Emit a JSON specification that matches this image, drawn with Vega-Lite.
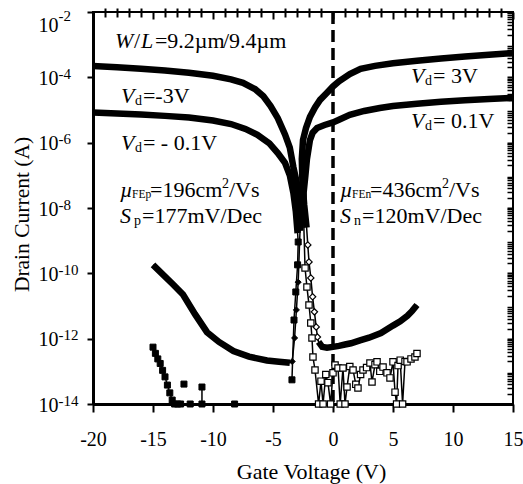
{
"$schema":"https://vega.github.io/schema/vega-lite/v6.json",
"width":420,"height":392,"autosize":"none",
"padding":{"left":93,"top":12,"right":10,"bottom":80},
"background":"white",
"config":{"view":{"stroke":"black","strokeWidth":2},
 "axis":{"grid":false,"labelFont":"Liberation Serif","titleFont":"Liberation Serif","labelColor":"black","titleColor":"black","tickColor":"black","domainColor":"black","titleFontWeight":"normal"}},
"resolve":{"axis":{"x":"independent","y":"independent"}},
"datasets":{
"curves":[
{"series":"m3","path":"m3","part":"on","i":1,"vg":-20,"id":2.24e-4},
{"series":"m3","path":"m3","part":"on","i":2,"vg":-18,"id":2.04e-4},
{"series":"m3","path":"m3","part":"on","i":3,"vg":-16,"id":1.82e-4},
{"series":"m3","path":"m3","part":"on","i":4,"vg":-14,"id":1.62e-4},
{"series":"m3","path":"m3","part":"on","i":5,"vg":-12,"id":1.38e-4},
{"series":"m3","path":"m3","part":"on","i":6,"vg":-10,"id":1.12e-4},
{"series":"m3","path":"m3","part":"on","i":7,"vg":-8.5,"id":8.71e-5},
{"series":"m3","path":"m3","part":"on","i":8,"vg":-7.5,"id":6.76e-5},
{"series":"m3","path":"m3","part":"on","i":9,"vg":-6.5,"id":4.37e-5},
{"series":"m3","path":"m3","part":"on","i":10,"vg":-5.8,"id":2.63e-5},
{"series":"m3","path":"m3","part":"on","i":11,"vg":-5.2,"id":1.32e-5},
{"series":"m3","path":"m3","part":"on","i":12,"vg":-4.6,"id":5.62e-6},
{"series":"m3","path":"m3","part":"on","i":13,"vg":-4.0,"id":1.78e-6},
{"series":"m3","path":"m3","part":"on","i":14,"vg":-3.6,"id":7.08e-7},
{"series":"m3","path":"m3","part":"on","i":15,"vg":-3.3,"id":1.78e-7},
{"series":"m3","path":"m3","part":"on","i":16,"vg":-3.0,"id":5.62e-8},
{"series":"m3","path":"m3","part":"on","i":17,"vg":-2.8,"id":1.78e-8},
{"series":"m3","path":"m3","part":"on","i":18,"vg":-2.75,"id":2.0e-9},
{"series":"m3","path":"m3","part":"sub","i":19,"vg":-2.9,"id":5.37e-11},
{"series":"m3","path":"m3","part":"sub","i":20,"vg":-3.05,"id":7.59e-12},
{"series":"m3","path":"m3","part":"sub","i":21,"vg":-3.2,"id":1.05e-12},
{"series":"m3","path":"m3","part":"sub","i":22,"vg":-3.4,"id":2.0e-13},
{"series":"m3","path":"m3","part":"off","i":23,"vg":-3.6,"id":1.82e-13},
{"series":"m3","path":"m3","part":"off","i":24,"vg":-4.5,"id":1.95e-13},
{"series":"m3","path":"m3","part":"off","i":25,"vg":-5.5,"id":2.14e-13},
{"series":"m3","path":"m3","part":"off","i":26,"vg":-7,"id":2.82e-13},
{"series":"m3","path":"m3","part":"off","i":27,"vg":-8.3,"id":4.17e-13},
{"series":"m3","path":"m3","part":"off","i":28,"vg":-9.5,"id":7.94e-13},
{"series":"m3","path":"m3","part":"off","i":29,"vg":-10.5,"id":1.58e-12},
{"series":"m3","path":"m3","part":"off","i":30,"vg":-11.5,"id":5.62e-12},
{"series":"m3","path":"m3","part":"off","i":31,"vg":-12.5,"id":2.24e-11},
{"series":"m3","path":"m3","part":"off","i":32,"vg":-13.3,"id":4.47e-11},
{"series":"m3","path":"m3","part":"off","i":33,"vg":-15,"id":1.82e-10},
{"series":"m01","path":"m01a","part":"on","i":1,"vg":-20,"id":8.32e-6},
{"series":"m01","path":"m01a","part":"on","i":2,"vg":-18,"id":7.76e-6},
{"series":"m01","path":"m01a","part":"on","i":3,"vg":-16,"id":7.24e-6},
{"series":"m01","path":"m01a","part":"on","i":4,"vg":-14,"id":6.61e-6},
{"series":"m01","path":"m01a","part":"on","i":5,"vg":-12,"id":5.89e-6},
{"series":"m01","path":"m01a","part":"on","i":6,"vg":-10,"id":4.79e-6},
{"series":"m01","path":"m01a","part":"on","i":7,"vg":-8.5,"id":3.72e-6},
{"series":"m01","path":"m01a","part":"on","i":8,"vg":-7.3,"id":2.63e-6},
{"series":"m01","path":"m01a","part":"on","i":9,"vg":-6.3,"id":1.74e-6},
{"series":"m01","path":"m01a","part":"on","i":10,"vg":-5.3,"id":9.55e-7},
{"series":"m01","path":"m01a","part":"on","i":11,"vg":-4.6,"id":4.79e-7},
{"series":"m01","path":"m01a","part":"on","i":12,"vg":-4.0,"id":2.4e-7},
{"series":"m01","path":"m01a","part":"on","i":13,"vg":-3.6,"id":1.0e-7},
{"series":"m01","path":"m01a","part":"on","i":14,"vg":-3.3,"id":2.88e-8},
{"series":"m01","path":"m01a","part":"on","i":15,"vg":-3.1,"id":7.94e-9},
{"series":"m01","path":"m01a","part":"on","i":16,"vg":-2.95,"id":1.7e-9},
{"series":"m01","path":"m01a","part":"sub","i":17,"vg":-2.9,"id":9.12e-10},
{"series":"m01","path":"m01a","part":"sub","i":18,"vg":-2.95,"id":1.82e-10},
{"series":"m01","path":"m01a","part":"sub","i":19,"vg":-3.1,"id":2.69e-11},
{"series":"m01","path":"m01a","part":"sub","i":20,"vg":-3.25,"id":3.72e-12},
{"series":"m01","path":"m01a","part":"sub","i":21,"vg":-3.42,"id":5.5e-14},
{"series":"m01","path":"m01b","part":"noise","i":22,"vg":-15,"id":5.5e-13},
{"series":"m01","path":"m01b","part":"noise","i":23,"vg":-14.8,"id":3.55e-13},
{"series":"m01","path":"m01b","part":"noise","i":24,"vg":-14.6,"id":2.4e-13},
{"series":"m01","path":"m01b","part":"noise","i":25,"vg":-14.4,"id":1.74e-13},
{"series":"m01","path":"m01b","part":"noise","i":26,"vg":-14.2,"id":1.07e-13},
{"series":"m01","path":"m01b","part":"noise","i":27,"vg":-14.0,"id":6.76e-14},
{"series":"m01","path":"m01b","part":"noise","i":28,"vg":-13.8,"id":3.8e-14},
{"series":"m01","path":"m01b","part":"noise","i":29,"vg":-13.6,"id":2.19e-14},
{"series":"m01","path":"m01b","part":"noise","i":30,"vg":-13.4,"id":1.32e-14},
{"series":"m01","path":"m01b","part":"noise","i":31,"vg":-13.2,"id":1e-14},
{"series":"m01","path":"m01b","part":"noise","i":32,"vg":-12.95,"id":1e-14},
{"series":"m01","path":"m01b","part":"noise","i":33,"vg":-12.7,"id":1e-14},
{"series":"m01","path":"m01c","part":"noise","i":34,"vg":-12.42,"id":4.07e-14},
{"series":"m01","path":"m01d","part":"noise","i":35,"vg":-11.9,"id":1e-14},
{"series":"m01","path":"m01e","part":"noise","i":36,"vg":-10.92,"id":3.31e-14},
{"series":"m01","path":"m01e","part":"noise","i":37,"vg":-10.92,"id":1e-14},
{"series":"m01","path":"m01f","part":"noise","i":38,"vg":-8.2,"id":1e-14},
{"series":"p3","path":"p3","part":"on","i":1,"vg":15,"id":5.5e-4},
{"series":"p3","path":"p3","part":"on","i":2,"vg":13,"id":4.9e-4},
{"series":"p3","path":"p3","part":"on","i":3,"vg":11,"id":4.37e-4},
{"series":"p3","path":"p3","part":"on","i":4,"vg":9,"id":3.8e-4},
{"series":"p3","path":"p3","part":"on","i":5,"vg":7,"id":3.24e-4},
{"series":"p3","path":"p3","part":"on","i":6,"vg":5,"id":2.69e-4},
{"series":"p3","path":"p3","part":"on","i":7,"vg":3.5,"id":2.24e-4},
{"series":"p3","path":"p3","part":"on","i":8,"vg":2.3,"id":1.82e-4},
{"series":"p3","path":"p3","part":"on","i":9,"vg":1.4,"id":1.26e-4},
{"series":"p3","path":"p3","part":"on","i":10,"vg":0.5,"id":7.59e-5},
{"series":"p3","path":"p3","part":"on","i":11,"vg":0,"id":5.25e-5},
{"series":"p3","path":"p3","part":"on","i":12,"vg":-0.5,"id":3.39e-5},
{"series":"p3","path":"p3","part":"on","i":13,"vg":-1.08,"id":2.04e-5},
{"series":"p3","path":"p3","part":"on","i":14,"vg":-1.5,"id":1.2e-5},
{"series":"p3","path":"p3","part":"on","i":15,"vg":-1.92,"id":6.17e-6},
{"series":"p3","path":"p3","part":"on","i":16,"vg":-2.25,"id":2.82e-6},
{"series":"p3","path":"p3","part":"on","i":17,"vg":-2.5,"id":1.2e-6},
{"series":"p3","path":"p3","part":"on","i":18,"vg":-2.6,"id":3.16e-7},
{"series":"p3","path":"p3","part":"on","i":19,"vg":-2.55,"id":6.31e-8},
{"series":"p3","path":"p3","part":"on","i":20,"vg":-2.4,"id":1.26e-8},
{"series":"p3","path":"p3","part":"on","i":21,"vg":-2.2,"id":2.51e-9},
{"series":"p3","path":"p3","part":"sub","i":22,"vg":-2.1,"id":7.41e-10},
{"series":"p3","path":"p3","part":"sub","i":23,"vg":-2.0,"id":2.24e-10},
{"series":"p3","path":"p3","part":"sub","i":24,"vg":-1.85,"id":7.24e-11},
{"series":"p3","path":"p3","part":"sub","i":25,"vg":-1.7,"id":1.91e-11},
{"series":"p3","path":"p3","part":"sub","i":26,"vg":-1.55,"id":6.61e-12},
{"series":"p3","path":"p3","part":"sub","i":27,"vg":-1.4,"id":2.29e-12},
{"series":"p3","path":"p3","part":"sub","i":28,"vg":-1.3,"id":1.12e-12},
{"series":"p3","path":"p3","part":"off","i":29,"vg":-1.2,"id":7.94e-13},
{"series":"p3","path":"p3","part":"off","i":30,"vg":-0.9,"id":5.62e-13},
{"series":"p3","path":"p3","part":"off","i":31,"vg":-0.5,"id":5.25e-13},
{"series":"p3","path":"p3","part":"off","i":32,"vg":0,"id":5.62e-13},
{"series":"p3","path":"p3","part":"off","i":33,"vg":0.5,"id":6.03e-13},
{"series":"p3","path":"p3","part":"off","i":34,"vg":1,"id":6.61e-13},
{"series":"p3","path":"p3","part":"off","i":35,"vg":1.5,"id":7.24e-13},
{"series":"p3","path":"p3","part":"off","i":36,"vg":2.25,"id":8.91e-13},
{"series":"p3","path":"p3","part":"off","i":37,"vg":3,"id":1.07e-12},
{"series":"p3","path":"p3","part":"off","i":38,"vg":4,"id":1.48e-12},
{"series":"p3","path":"p3","part":"off","i":39,"vg":5,"id":2.51e-12},
{"series":"p3","path":"p3","part":"off","i":40,"vg":5.6,"id":3.39e-12},
{"series":"p3","path":"p3","part":"off","i":41,"vg":6.2,"id":5.01e-12},
{"series":"p3","path":"p3","part":"off","i":42,"vg":6.6,"id":7.08e-12},
{"series":"p3","path":"p3","part":"off","i":43,"vg":7,"id":1.07e-11},
{"series":"p01","path":"p01","part":"on","i":1,"vg":15,"id":2.34e-5},
{"series":"p01","path":"p01","part":"on","i":2,"vg":13,"id":2.19e-5},
{"series":"p01","path":"p01","part":"on","i":3,"vg":11,"id":2.0e-5},
{"series":"p01","path":"p01","part":"on","i":4,"vg":9,"id":1.78e-5},
{"series":"p01","path":"p01","part":"on","i":5,"vg":7,"id":1.55e-5},
{"series":"p01","path":"p01","part":"on","i":6,"vg":5,"id":1.32e-5},
{"series":"p01","path":"p01","part":"on","i":7,"vg":3.9,"id":1.15e-5},
{"series":"p01","path":"p01","part":"on","i":8,"vg":2.6,"id":9.33e-6},
{"series":"p01","path":"p01","part":"on","i":9,"vg":1.4,"id":7.08e-6},
{"series":"p01","path":"p01","part":"on","i":10,"vg":0.5,"id":5.01e-6},
{"series":"p01","path":"p01","part":"on","i":11,"vg":0,"id":4.17e-6},
{"series":"p01","path":"p01","part":"on","i":12,"vg":-0.7,"id":3.47e-6},
{"series":"p01","path":"p01","part":"on","i":13,"vg":-1.33,"id":2.82e-6},
{"series":"p01","path":"p01","part":"on","i":14,"vg":-1.7,"id":2.0e-6},
{"series":"p01","path":"p01","part":"on","i":15,"vg":-1.92,"id":1.2e-6},
{"series":"p01","path":"p01","part":"on","i":16,"vg":-2.17,"id":3.16e-7},
{"series":"p01","path":"p01","part":"on","i":17,"vg":-2.3,"id":1.0e-7},
{"series":"p01","path":"p01","part":"on","i":18,"vg":-2.45,"id":2.88e-8},
{"series":"p01","path":"p01","part":"on","i":19,"vg":-2.45,"id":5.01e-9},
{"series":"p01","path":"p01","part":"sub","i":20,"vg":-2.33,"id":1.45e-10},
{"series":"p01","path":"p01","part":"sub","i":21,"vg":-2.17,"id":3.8e-11},
{"series":"p01","path":"p01","part":"sub","i":22,"vg":-2.0,"id":1.07e-11},
{"series":"p01","path":"p01","part":"sub","i":23,"vg":-1.85,"id":3.02e-12},
{"series":"p01","path":"p01","part":"sub","i":24,"vg":-1.75,"id":1.05e-12},
{"series":"p01","path":"p01","part":"sub","i":25,"vg":-1.67,"id":2.75e-13},
{"series":"p01","path":"p01","part":"noise","i":26,"vg":-1.5,"id":1.1e-13},
{"series":"p01","path":"p01","part":"noise","i":27,"vg":-1.2,"id":1e-14},
{"series":"p01","path":"p01","part":"noise","i":28,"vg":-1.0,"id":5.0e-14},
{"series":"p01","path":"p01","part":"noise","i":29,"vg":-0.83,"id":1e-14},
{"series":"p01","path":"p01","part":"noise","i":30,"vg":-0.6,"id":8.0e-14},
{"series":"p01","path":"p01","part":"noise","i":31,"vg":-0.42,"id":4.5e-14},
{"series":"p01","path":"p01","part":"noise","i":32,"vg":-0.2,"id":1e-14},
{"series":"p01","path":"p01","part":"noise","i":33,"vg":0.0,"id":9.0e-14},
{"series":"p01","path":"p01","part":"noise","i":34,"vg":0.17,"id":1.55e-13},
{"series":"p01","path":"p01","part":"noise","i":35,"vg":0.42,"id":1.26e-13},
{"series":"p01","path":"p01","part":"noise","i":36,"vg":0.6,"id":1e-14},
{"series":"p01","path":"p01","part":"noise","i":37,"vg":0.83,"id":1.26e-13},
{"series":"p01","path":"p01","part":"noise","i":38,"vg":1.0,"id":1e-14},
{"series":"p01","path":"p01","part":"noise","i":39,"vg":1.17,"id":3.3e-14},
{"series":"p01","path":"p01","part":"noise","i":40,"vg":1.4,"id":1.4e-13},
{"series":"p01","path":"p01","part":"noise","i":41,"vg":1.67,"id":1.1e-13},
{"series":"p01","path":"p01","part":"noise","i":42,"vg":1.9,"id":4.0e-14},
{"series":"p01","path":"p01","part":"noise","i":43,"vg":2.08,"id":3.1e-14},
{"series":"p01","path":"p01","part":"noise","i":44,"vg":2.3,"id":8.0e-14},
{"series":"p01","path":"p01","part":"noise","i":45,"vg":2.5,"id":1.1e-13},
{"series":"p01","path":"p01","part":"noise","i":46,"vg":2.8,"id":1.3e-13},
{"series":"p01","path":"p01","part":"noise","i":47,"vg":3.08,"id":1.8e-13},
{"series":"p01","path":"p01","part":"noise","i":48,"vg":3.25,"id":4.7e-14},
{"series":"p01","path":"p01","part":"noise","i":49,"vg":3.5,"id":1.6e-13},
{"series":"p01","path":"p01","part":"noise","i":50,"vg":3.67,"id":1.95e-13},
{"series":"p01","path":"p01","part":"noise","i":51,"vg":3.9,"id":1.0e-13},
{"series":"p01","path":"p01","part":"noise","i":52,"vg":4.17,"id":1.35e-13},
{"series":"p01","path":"p01","part":"noise","i":53,"vg":4.5,"id":9.0e-14},
{"series":"p01","path":"p01","part":"noise","i":54,"vg":4.75,"id":6.3e-14},
{"series":"p01","path":"p01","part":"noise","i":55,"vg":5.0,"id":1.95e-13},
{"series":"p01","path":"p01","part":"noise","i":56,"vg":5.17,"id":2.3e-14},
{"series":"p01","path":"p01","part":"noise","i":57,"vg":5.3,"id":1e-14},
{"series":"p01","path":"p01","part":"noise","i":58,"vg":5.42,"id":1.5e-13},
{"series":"p01","path":"p01","part":"noise","i":59,"vg":5.6,"id":2.2e-13},
{"series":"p01","path":"p01","part":"noise","i":60,"vg":5.8,"id":1e-14},
{"series":"p01","path":"p01","part":"noise","i":61,"vg":6.0,"id":2.0e-13},
{"series":"p01","path":"p01","part":"noise","i":62,"vg":6.17,"id":1.95e-13},
{"series":"p01","path":"p01","part":"noise","i":63,"vg":6.5,"id":2.4e-13},
{"series":"p01","path":"p01","part":"noise","i":64,"vg":6.83,"id":2.75e-13},
{"series":"p01","path":"p01","part":"noise","i":65,"vg":7.0,"id":3.5e-13}
],
"notes":[
{"k":"it","t":"W","x":-18.17,"y":7.91e-4},
{"k":"it","t":"V","x":-17.67,"y":1.64e-5},
{"k":"it","t":"V","x":-17.67,"y":5.97e-7},
{"k":"it","t":"µ","x":-17.75,"y":2.17e-8},
{"k":"it","t":"S","x":-17.75,"y":3.47e-9},
{"k":"it","t":"V","x":6.5,"y":6.71e-5},
{"k":"it","t":"V","x":6.5,"y":2.81e-6},
{"k":"it","t":"µ","x":0.583,"y":2.17e-8},
{"k":"it","t":"S","x":0.583,"y":3.47e-9},
{"k":"sub","t":"d","x":-17.67,"y":1.64e-5},
{"k":"sub","t":"d","x":-17.67,"y":5.97e-7},
{"k":"sub","t":"d","x":6.5,"y":6.71e-5},
{"k":"sub","t":"d","x":6.5,"y":2.81e-6},
{"k":"sub","t":"p","x":-17.75,"y":3.47e-9},
{"k":"sub","t":"n","x":0.583,"y":3.47e-9},
{"k":"rest","t":"=-3V","x":-17.67,"y":1.64e-5},
{"k":"rest","t":"= - 0.1V","x":-17.67,"y":5.97e-7},
{"k":"rest","t":"= 3V","x":6.5,"y":6.71e-5},
{"k":"rest","t":"= 0.1V","x":6.5,"y":2.81e-6},
{"k":"rest","t":"=177mV/Dec","x":-17.75,"y":3.47e-9},
{"k":"rest","t":"=120mV/Dec","x":0.583,"y":3.47e-9},
{"k":"fe","t":"FEp","x":-17.75,"y":2.17e-8},
{"k":"fe","t":"FEn","x":0.583,"y":2.17e-8},
{"k":"mu","t":"=196cm","x":-17.75,"y":2.17e-8},
{"k":"mu","t":"=436cm","x":0.583,"y":2.17e-8},
{"k":"sup","t":"2","x":-17.75,"y":2.17e-8},
{"k":"sup","t":"2","x":0.583,"y":2.17e-8},
{"k":"vs","t":"/Vs","x":-17.75,"y":2.17e-8},
{"k":"vs","t":"/Vs","x":0.583,"y":2.17e-8},
{"k":"sl","t":"/","x":-18.17,"y":7.91e-4},
{"k":"itL","t":"L","x":-18.17,"y":7.91e-4},
{"k":"wl1","t":"=9.2µm","x":-18.17,"y":7.91e-4},
{"k":"wl2","t":"/9.4µm","x":-18.17,"y":7.91e-4}
]
},
"layer":[
{"data":{"values":[{}]},
 "mark":{"type":"rule","strokeDash":[12,6],"strokeWidth":3.5,"color":"black"},
 "encoding":{"x":{"datum":0,"type":"quantitative","scale":{"domain":[-20,15],"nice":false,"zero":false},"axis":null}}},
{"data":{"name":"curves"},
 "mark":{"type":"line","color":"black","strokeWidth":1.5,"clip":true},
 "encoding":{
  "x":{"field":"vg","type":"quantitative","scale":{"domain":[-20,15],"nice":false,"zero":false},
   "axis":{"title":"Gate Voltage (V)","values":[-20,-15,-10,-5,0,5,10,15],"labelExpr":"datum.value + ''","tickSize":8,"tickWidth":2,"domainWidth":3,"labelFontSize":20,"labelPadding":33,"labelBaseline":"alphabetic","labelFlush":false,"labelOverlap":false,"titleFontSize":22,"titleX":218,"titleY":74,"titleBaseline":"alphabetic","titleAlign":"center"}},
  "y":{"field":"id","type":"quantitative","scale":{"type":"log","domain":[1e-14,1e-2],"nice":false},
   "axis":{"title":"Drain Current (A)","values":[1e-14,1e-12,1e-10,1e-8,1e-6,1e-4,1e-2],"labelExpr":"'10'","tickSize":6,"tickWidth":2,"domainWidth":3,"labelFontSize":20,"labelPadding":29,"labelBaseline":"alphabetic","labelOffset":{"condition":{"test":"datum.value > 0.005","value":19},"value":7},"labelOverlap":false,"labelFlush":false,"titleFontSize":21.5,"titleX":-65,"titleY":202,"titleBaseline":"alphabetic","titleAlign":"center","titleAngle":270}},
  "detail":{"field":"path"},
  "order":{"field":"i","type":"quantitative"}}},
{"data":{"name":"curves"},
 "transform":[{"filter":"datum.part == 'on' || datum.part == 'off'"}],
 "mark":{"type":"line","color":"black","strokeWidth":6.5,"clip":true},
 "encoding":{
  "x":{"field":"vg","type":"quantitative","scale":{"domain":[-20,15],"nice":false,"zero":false},
   "axis":{"values":[-20,-15,-10,-5,0,5,10,15],"tickSize":-7,"tickWidth":2,"labels":false,"domain":false,"title":null}},
  "y":{"field":"id","type":"quantitative","scale":{"type":"log","domain":[1e-14,1e-2],"nice":false},
   "axis":{"values":[1e-14,1e-12,1e-10,1e-8,1e-6,1e-4,1e-2],"tickSize":-6,"tickWidth":2,"labels":false,"domain":false,"title":null}},
  "detail":[{"field":"path"},{"field":"part"}],
  "order":{"field":"i","type":"quantitative"}}},
{"data":{"name":"curves"},
 "transform":[{"filter":"(datum.series == 'm3' || datum.series == 'm01') && (datum.part == 'sub' || datum.part == 'noise')"}],
 "mark":{"type":"point","filled":true,"fill":"black","stroke":"black","strokeWidth":1,"size":36,"opacity":1},
 "encoding":{
  "x":{"field":"vg","type":"quantitative","scale":{"domain":[-20,15],"nice":false,"zero":false},
   "axis":{"values":[-19,-18,-17,-16,-14,-13,-12,-11,-9,-8,-7,-6,-4,-3,-2,-1,1,2,3,4,6,7,8,9,11,12,13,14],"tickSize":4,"tickWidth":2,"labels":false,"domain":false,"title":null}},
  "y":{"field":"id","type":"quantitative","scale":{"type":"log","domain":[1e-14,1e-2],"nice":false},
   "axis":{"values":[2e-14,3e-14,4e-14,5e-14,6e-14,7e-14,8e-14,9e-14,2e-13,3e-13,4e-13,5e-13,6e-13,7e-13,8e-13,9e-13,2e-12,3e-12,4e-12,5e-12,6e-12,7e-12,8e-12,9e-12,2e-11,3e-11,4e-11,5e-11,6e-11,7e-11,8e-11,9e-11,2e-10,3e-10,4e-10,5e-10,6e-10,7e-10,8e-10,9e-10,2e-9,3e-9,4e-9,5e-9,6e-9,7e-9,8e-9,9e-9,2e-8,3e-8,4e-8,5e-8,6e-8,7e-8,8e-8,9e-8,2e-7,3e-7,4e-7,5e-7,6e-7,7e-7,8e-7,9e-7,2e-6,3e-6,4e-6,5e-6,6e-6,7e-6,8e-6,9e-6,2e-5,3e-5,4e-5,5e-5,6e-5,7e-5,8e-5,9e-5,2e-4,3e-4,4e-4,5e-4,6e-4,7e-4,8e-4,9e-4,2e-3,3e-3,4e-3,5e-3,6e-3,7e-3,8e-3,9e-3],"tickSize":-6,"tickWidth":1.5,"labels":false,"domain":false,"title":null}},
  "shape":{"field":"series","type":"nominal","scale":{"domain":["m3","m01","p3","p01"],"range":["diamond","square","diamond","square"]},"legend":null}}},
{"data":{"name":"curves"},
 "transform":[{"filter":"(datum.series == 'p3' || datum.series == 'p01') && (datum.part == 'sub' || datum.part == 'noise')"}],
 "mark":{"type":"point","filled":true,"fill":"white","stroke":"black","strokeWidth":1.2,"size":40,"opacity":1},
 "encoding":{
  "x":{"field":"vg","type":"quantitative","scale":{"domain":[-20,15],"nice":false,"zero":false},
   "axis":{"values":[-19,-18,-17,-16,-14,-13,-12,-11,-9,-8,-7,-6,-4,-3,-2,-1,1,2,3,4,6,7,8,9,11,12,13,14],"tickSize":-5,"tickWidth":2,"labels":false,"domain":false,"title":null}},
  "y":{"field":"id","type":"quantitative","scale":{"type":"log","domain":[1e-14,1e-2],"nice":false},
   "axis":{"orient":"left","values":[1e-14,1e-12,1e-10,1e-8,1e-6,1e-4,1e-2],"ticks":false,"tickSize":0,"domain":false,"title":null,"labelExpr":"'' + round(log(datum.value)/LN10)","labelAlign":"left","labelPadding":35,"labelFontSize":15,"labelBaseline":"alphabetic","labelOffset":{"condition":{"test":"datum.value > 0.005","value":8},"value":1},"labelOverlap":false,"labelFlush":false}},
  "shape":{"field":"series","type":"nominal","scale":{"domain":["m3","m01","p3","p01"],"range":["diamond","square","diamond","square"]},"legend":null}}},
{"data":{"name":"notes"},"transform":[{"filter":"datum.k == 'it'"}],
 "mark":{"type":"text","align":"left","baseline":"alphabetic","font":"Liberation Serif","fontSize":22,"fontStyle":"italic","color":"black"},
 "encoding":{"x":{"field":"x","type":"quantitative","scale":{"domain":[-20,15],"nice":false,"zero":false},"axis":null},"y":{"field":"y","type":"quantitative","scale":{"type":"log","domain":[1e-14,1e-2],"nice":false},"axis":null},"text":{"field":"t"}}},
{"data":{"name":"notes"},"transform":[{"filter":"datum.k == 'sub'"}],
 "mark":{"type":"text","align":"left","baseline":"alphabetic","font":"Liberation Serif","fontSize":14,"dx":14,"dy":2,"color":"black"},
 "encoding":{"x":{"field":"x","type":"quantitative","scale":{"domain":[-20,15],"nice":false,"zero":false},"axis":null},"y":{"field":"y","type":"quantitative","scale":{"type":"log","domain":[1e-14,1e-2],"nice":false},"axis":null},"text":{"field":"t"}}},
{"data":{"name":"notes"},"transform":[{"filter":"datum.k == 'rest'"}],
 "mark":{"type":"text","align":"left","baseline":"alphabetic","font":"Liberation Serif","fontSize":22,"dx":22,"color":"black"},
 "encoding":{"x":{"field":"x","type":"quantitative","scale":{"domain":[-20,15],"nice":false,"zero":false},"axis":null},"y":{"field":"y","type":"quantitative","scale":{"type":"log","domain":[1e-14,1e-2],"nice":false},"axis":null},"text":{"field":"t"}}},
{"data":{"name":"notes"},"transform":[{"filter":"datum.k == 'fe'"}],
 "mark":{"type":"text","align":"left","baseline":"alphabetic","font":"Liberation Serif","fontSize":11.5,"dx":12,"dy":1,"color":"black"},
 "encoding":{"x":{"field":"x","type":"quantitative","scale":{"domain":[-20,15],"nice":false,"zero":false},"axis":null},"y":{"field":"y","type":"quantitative","scale":{"type":"log","domain":[1e-14,1e-2],"nice":false},"axis":null},"text":{"field":"t"}}},
{"data":{"name":"notes"},"transform":[{"filter":"datum.k == 'mu'"}],
 "mark":{"type":"text","align":"left","baseline":"alphabetic","font":"Liberation Serif","fontSize":22,"dx":30,"color":"black"},
 "encoding":{"x":{"field":"x","type":"quantitative","scale":{"domain":[-20,15],"nice":false,"zero":false},"axis":null},"y":{"field":"y","type":"quantitative","scale":{"type":"log","domain":[1e-14,1e-2],"nice":false},"axis":null},"text":{"field":"t"}}},
{"data":{"name":"notes"},"transform":[{"filter":"datum.k == 'sup'"}],
 "mark":{"type":"text","align":"left","baseline":"alphabetic","font":"Liberation Serif","fontSize":14,"dx":102,"dy":-9,"color":"black"},
 "encoding":{"x":{"field":"x","type":"quantitative","scale":{"domain":[-20,15],"nice":false,"zero":false},"axis":null},"y":{"field":"y","type":"quantitative","scale":{"type":"log","domain":[1e-14,1e-2],"nice":false},"axis":null},"text":{"field":"t"}}},
{"data":{"name":"notes"},"transform":[{"filter":"datum.k == 'vs'"}],
 "mark":{"type":"text","align":"left","baseline":"alphabetic","font":"Liberation Serif","fontSize":22,"dx":109,"color":"black"},
 "encoding":{"x":{"field":"x","type":"quantitative","scale":{"domain":[-20,15],"nice":false,"zero":false},"axis":null},"y":{"field":"y","type":"quantitative","scale":{"type":"log","domain":[1e-14,1e-2],"nice":false},"axis":null},"text":{"field":"t"}}},
{"data":{"name":"notes"},"transform":[{"filter":"datum.k == 'sl'"}],
 "mark":{"type":"text","align":"left","baseline":"alphabetic","font":"Liberation Serif","fontSize":22,"dx":19,"color":"black"},
 "encoding":{"x":{"field":"x","type":"quantitative","scale":{"domain":[-20,15],"nice":false,"zero":false},"axis":null},"y":{"field":"y","type":"quantitative","scale":{"type":"log","domain":[1e-14,1e-2],"nice":false},"axis":null},"text":{"field":"t"}}},
{"data":{"name":"notes"},"transform":[{"filter":"datum.k == 'itL'"}],
 "mark":{"type":"text","align":"left","baseline":"alphabetic","font":"Liberation Serif","fontSize":22,"fontStyle":"italic","dx":26,"color":"black"},
 "encoding":{"x":{"field":"x","type":"quantitative","scale":{"domain":[-20,15],"nice":false,"zero":false},"axis":null},"y":{"field":"y","type":"quantitative","scale":{"type":"log","domain":[1e-14,1e-2],"nice":false},"axis":null},"text":{"field":"t"}}},
{"data":{"name":"notes"},"transform":[{"filter":"datum.k == 'wl1'"}],
 "mark":{"type":"text","align":"left","baseline":"alphabetic","font":"Liberation Serif","fontSize":22,"dx":40,"color":"black"},
 "encoding":{"x":{"field":"x","type":"quantitative","scale":{"domain":[-20,15],"nice":false,"zero":false},"axis":null},"y":{"field":"y","type":"quantitative","scale":{"type":"log","domain":[1e-14,1e-2],"nice":false},"axis":null},"text":{"field":"t"}}},
{"data":{"name":"notes"},"transform":[{"filter":"datum.k == 'wl2'"}],
 "mark":{"type":"text","align":"left","baseline":"alphabetic","font":"Liberation Serif","fontSize":22,"dx":108,"color":"black"},
 "encoding":{"x":{"field":"x","type":"quantitative","scale":{"domain":[-20,15],"nice":false,"zero":false},"axis":null},"y":{"field":"y","type":"quantitative","scale":{"type":"log","domain":[1e-14,1e-2],"nice":false},"axis":null},"text":{"field":"t"}}}
]
}
